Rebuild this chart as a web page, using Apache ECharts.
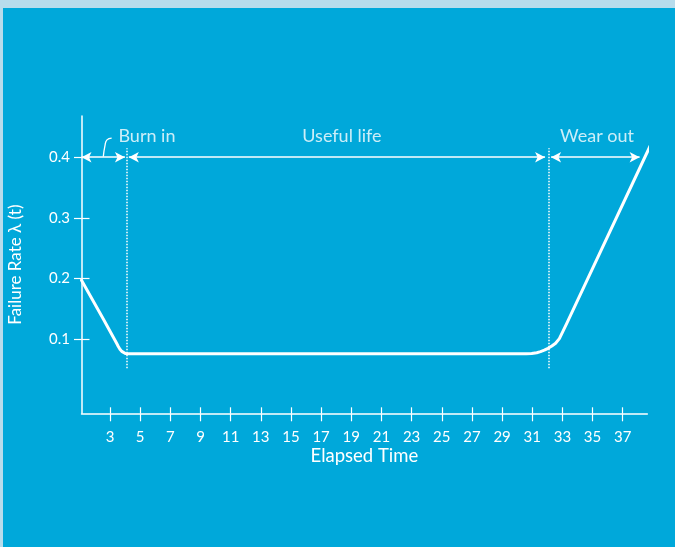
<!DOCTYPE html>
<html>
<head>
<meta charset="utf-8">
<script src="https://cdn.jsdelivr.net/npm/echarts@6/dist/echarts.min.js"></script>
<style>
  html, body { margin: 0; padding: 0; width: 675px; height: 547px; background: #b7dcec; overflow: hidden; }
  #chart { position: absolute; left: 3px; top: 8px; width: 672px; height: 539px; background: #00a8da; }
</style>
</head>
<body>
<div id="chart"></div>
<script>
// ---- data ----
const xTicks = [3, 5, 7, 9, 11, 13, 15, 17, 19, 21, 23, 25, 27, 29, 31, 33, 35, 37];
const yTicks = [0.1, 0.2, 0.3, 0.4];
const curveX = [1.11, 2.556, 3.44, 3.55, 3.66, 3.78, 3.9, 4.02, 4.2, 10, 20, 30.6, 30.96, 31.3, 31.55, 31.8, 32.05, 32.3, 32.55, 32.8, 33.05, 33.29, 38.86];
const curveY = [0.197, 0.133, 0.093, 0.0878, 0.0833, 0.0797, 0.0774, 0.0762, 0.0758, 0.0758, 0.0758, 0.0758, 0.0762, 0.0775, 0.0793, 0.0817, 0.0848, 0.0887, 0.0932, 0.1008, 0.1135, 0.1259, 0.4208];
const phaseBounds = [4.11, 32.07];
const boundRange = [0.052, 0.415];
const arrowLevel = 0.4;
const arrowSegments = [[1.11, 3.99], [4.25, 31.85], [32.25, 38.12]];
const phaseNames = ['Burn in', 'Useful life', 'Wear out'];
const phaseLabelX = [5.45, 18.38, 35.3];
const phaseLabelY = 0.434;
const leaderX = [2.556, 2.67, 2.80, 3.11];
const leaderY = [0.401, 0.4196, 0.4287, 0.4316];
const xName = 'Elapsed Time';
const yName = 'Failure Rate λ (t)';

const FONT = 'Lato, "Open Sans", sans-serif';
const WHITE = '#ffffff';

const chart = echarts.init(document.getElementById('chart'), null, { renderer: 'canvas' });

const xMin = 1.11, xMax = 38.63, yMin = -0.0224, yMax = 0.468;

const option = {
  animation: false,
  grid: { left: 78.5, right: 27.7, top: 108, bottom: 133.7, containLabel: false, outerBoundsMode: 'none' },
  xAxis: [
    {
      type: 'value', min: xMin, max: xMax, position: 'bottom',
      name: xName, nameLocation: 'middle', nameGap: 33, nameMoveOverlap: false,
      nameTextStyle: { color: WHITE, fontFamily: FONT, fontSize: 18.5 },
      axisLine: { show: true, onZero: false, lineStyle: { color: WHITE, width: 1.5 } },
      axisTick: { show: true, inside: false, length: 8, customValues: xTicks, lineStyle: { color: WHITE, width: 1.2 } },
      axisLabel: { show: true, customValues: xTicks, margin: 16, color: WHITE, fontFamily: FONT, fontSize: 15 },
      splitLine: { show: false }
    },
    {
      type: 'value', min: xMin, max: xMax, position: 'bottom',
      axisLine: { show: false, onZero: false },
      axisTick: { show: true, inside: true, length: 6, customValues: xTicks, lineStyle: { color: WHITE, width: 1.2 } },
      axisLabel: { show: false },
      splitLine: { show: false }
    }
  ],
  yAxis: [
    {
      type: 'value', min: yMin, max: yMax, position: 'left',
      name: yName, nameLocation: 'middle', nameGap: 57, nameMoveOverlap: false,
      nameTextStyle: { color: WHITE, fontFamily: FONT, fontSize: 17 },
      axisLine: { show: true, onZero: false, lineStyle: { color: WHITE, width: 1.5 } },
      axisTick: { show: true, inside: false, length: 7.5, customValues: yTicks, lineStyle: { color: WHITE, width: 1.2 } },
      axisLabel: { show: true, customValues: yTicks, margin: 11.5, color: WHITE, fontFamily: FONT, fontSize: 15,
                   formatter: v => v.toFixed(1) },
      splitLine: { show: false }
    },
    {
      type: 'value', min: yMin, max: yMax, position: 'left',
      axisLine: { show: false, onZero: false },
      axisTick: { show: true, inside: true, length: 8, customValues: yTicks, lineStyle: { color: WHITE, width: 1.2 } },
      axisLabel: { show: false },
      splitLine: { show: false }
    }
  ],
  series: [
    {
      type: 'line', name: 'curve', silent: true, clip: false,
      data: curveX.map((x, i) => [x, curveY[i]]),
      showSymbol: false, symbol: 'none',
      smooth: false,
      lineStyle: { color: WHITE, width: 3, join: 'round', cap: 'round' },
      markLine: {
        silent: true, symbol: ['none', 'none'], label: { show: false },
        lineStyle: { color: WHITE, type: 'dotted', width: 1.5 },
        data: phaseBounds.map(b => [{ coord: [b, boundRange[0]] }, { coord: [b, boundRange[1]] }])
      }
    },
    {
      type: 'line', name: 'arrows', silent: true, data: [],
      markLine: {
        silent: true, symbol: ['arrow', 'arrow'], symbolSize: [8, 10], label: { show: false },
        lineStyle: { color: WHITE, type: 'solid', width: 1.5 },
        itemStyle: { color: WHITE },
        data: arrowSegments.map(s => [{ coord: [s[0], arrowLevel] }, { coord: [s[1], arrowLevel] }])
      }
    },
    {
      type: 'line', name: 'leader', silent: true, clip: false,
      data: leaderX.map((x, i) => [x, leaderY[i]]),
      showSymbol: false, symbol: 'none', smooth: 0.5,
      lineStyle: { color: WHITE, width: 1.3 }
    },
    {
      type: 'scatter', name: 'labels', silent: true,
      data: phaseNames.map((n, i) => ({ value: [phaseLabelX[i], phaseLabelY], name: n })),
      symbolSize: 1, itemStyle: { color: 'rgba(0,0,0,0)' },
      label: { show: true, position: 'inside', formatter: p => p.name, color: WHITE, fontFamily: FONT, fontSize: 18 }
    }
  ]
};
chart.setOption(option);
</script>
</body>
</html>
